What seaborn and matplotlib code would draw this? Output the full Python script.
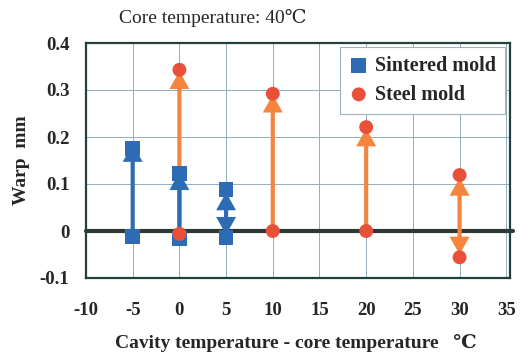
import matplotlib
matplotlib.use("Agg")
import matplotlib.pyplot as plt
import seaborn as sns
import pandas as pd

# ---- data ----
sintered_x = [-5, -5, 0, 0, 5, 5]
sintered_y = [-0.012, 0.175, -0.016, 0.122, -0.014, 0.088]
steel_x = [0, 0, 10, 10, 20, 20, 30, 30]
steel_y = [-0.006, 0.343, 0.0, 0.292, 0.0, 0.221, 0.119, -0.056]

# arrows: (x, from, to, double-headed)
sintered_arrows_x = [-5, 0, 5]
sintered_arrows_from = [-0.012, -0.012, -0.008]
sintered_arrows_to = [0.185, 0.125, 0.082]
sintered_arrows_double = [False, False, True]

steel_arrows_x = [0, 10, 20, 30]
steel_arrows_from = [-0.004, 0.0, 0.0, -0.050]
steel_arrows_to = [0.340, 0.290, 0.218, 0.113]
steel_arrows_double = [False, False, False, True]

x_ticks = [-10, -5, 0, 5, 10, 15, 20, 25, 30, 35]
y_ticks = [-0.1, 0, 0.1, 0.2, 0.3, 0.4]
y_tick_labels = ["-0.1", "0", "0.1", "0.2", "0.3", "0.4"]

title = "Core temperature: 40\u2103"
x_label = "Cavity temperature - core temperature   \u2103"
y_label = "Warp  mm"
series_names = ["Sintered mold", "Steel mold"]

# ---- styling ----
sns.set_style("white")
plt.rcParams["font.family"] = ["Liberation Serif", "DejaVu Serif"]
plt.rcParams["axes.unicode_minus"] = False

BLUE = "#2d6cb4"
ORANGE = "#f5843e"
RED = "#e8503a"
FRAME = "#24403a"

fig = plt.figure(figsize=(5.28, 3.53), dpi=100)
ax = fig.add_axes([86 / 528, 1 - 278 / 353, (510 - 86) / 528, (278 - 43) / 353])

df = pd.DataFrame({
    "x": sintered_x + steel_x,
    "y": sintered_y + steel_y,
    "mold": [series_names[0]] * len(sintered_x) + [series_names[1]] * len(steel_x),
})

ax.set_xlim(-10, 35.4)
ax.set_ylim(-0.1, 0.4)
ax.set_xticks(x_ticks)
ax.set_yticks(y_ticks)
ax.set_yticklabels(y_tick_labels)
ax.grid(True, color="#93adbd", lw=0.7, zorder=0)
ax.set_axisbelow(True)

ax.axhline(0, xmax=1.008, color="#2c3a36", lw=3, zorder=1, clip_on=False)


def draw_arrows(xs, frm, to, dbl, color, z):
    for x, a, b, d in zip(xs, frm, to, dbl):
        style = ("<|-|>" if d else "-|>") + ",head_length=0.75,head_width=0.42"
        ax.annotate("", xy=(x, b), xytext=(x, a),
                    arrowprops=dict(arrowstyle=style, mutation_scale=11,
                                    color=color, lw=3, shrinkA=0, shrinkB=0,
                                    joinstyle="miter"),
                    zorder=z)


draw_arrows(steel_arrows_x, steel_arrows_from, steel_arrows_to,
            steel_arrows_double, ORANGE, 2)

draw_arrows(sintered_arrows_x, sintered_arrows_from, sintered_arrows_to,
            sintered_arrows_double, BLUE, 4)

sns.scatterplot(data=df[df.mold == series_names[0]], x="x", y="y", ax=ax,
                color=BLUE, marker="s", s=110, edgecolor="none", zorder=5,
                label=series_names[0])

sns.scatterplot(data=df[df.mold == series_names[1]], x="x", y="y", ax=ax,
                color=RED, marker="o", s=100, edgecolor="none", zorder=6,
                label=series_names[1])

handles, labels = ax.get_legend_handles_labels()
order = [labels.index(series_names[0]), labels.index(series_names[1])]
leg = ax.legend([handles[i] for i in order], [labels[i] for i in order],
                loc="upper right", bbox_to_anchor=(0.988, 0.985),
                frameon=True, fancybox=False, framealpha=1,
                edgecolor="#9fb3c2", handletextpad=0.3, handlelength=1.0,
                borderpad=0.45, labelspacing=0.45, borderaxespad=0,
                prop={"weight": "bold", "size": 14.5})
leg.get_frame().set_linewidth(0.8)
leg.set_zorder(10)

for sp in ax.spines.values():
    sp.set_visible(True)
    sp.set_color(FRAME)
    sp.set_linewidth(1.6)

ax.tick_params(axis="both", length=0, labelsize=13.5)
ax.tick_params(axis="y", pad=12)
ax.tick_params(axis="x", pad=17)
for lab in ax.get_xticklabels() + ax.get_yticklabels():
    lab.set_fontweight("bold")

ax.set_xlabel(x_label, fontsize=14, fontweight="bold", va="center")
ax.xaxis.set_label_coords(0.495, -0.277)
ax.set_ylabel(y_label, fontsize=14, fontweight="bold", va="center")
ax.yaxis.set_label_coords(-0.151, 0.5)

fig.text(119 / 528, 1 - 18 / 353, title, ha="left", va="center", fontsize=14)

fig.savefig("out.png", dpi=100)
